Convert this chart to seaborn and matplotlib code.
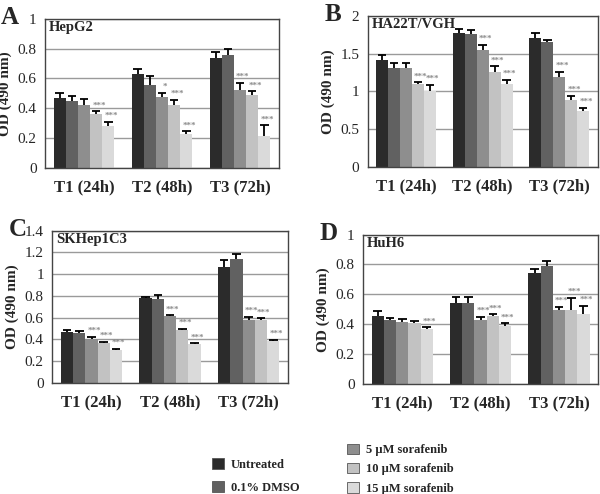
import matplotlib
matplotlib.use("Agg")
import matplotlib.pyplot as plt
from matplotlib.patches import Patch
import seaborn as sns
import pandas as pd
import numpy as np

times = ["T1 (24h)", "T2 (48h)", "T3 (72h)"]
treatments = ["Untreated", "0.1% DMSO", "5 µM sorafenib", "10 µM sorafenib", "15 µM sorafenib"]
colors = ["#2b2b2b", "#616161", "#8e8e8e", "#c2c2c2", "#dadada"]

# values per time point, one row per time, columns follow treatments
hepg2 = [[0.47, 0.45, 0.42, 0.36, 0.28],
         [0.63, 0.555, 0.475, 0.42, 0.225],
         [0.735, 0.76, 0.525, 0.49, 0.215]]
hepg2_err = [[0.03, 0.03, 0.04, 0.02, 0.03],
             [0.03, 0.06, 0.03, 0.035, 0.02],
             [0.04, 0.04, 0.045, 0.025, 0.07]]
hepg2_sig = [["", "", "", "***", "***"],
             ["", "", "*", "***", "***"],
             ["", "", "***", "***", "***"]]

ha22t = [[1.42, 1.31, 1.31, 1.10, 1.0],
         [1.77, 1.76, 1.55, 1.26, 1.10],
         [1.70, 1.65, 1.19, 0.89, 0.74]]
ha22t_err = [[0.06, 0.06, 0.07, 0.02, 0.09],
             [0.05, 0.05, 0.07, 0.07, 0.05],
             [0.07, 0.03, 0.07, 0.05, 0.04]]
ha22t_sig = [["", "", "", "***", "***"],
             ["", "", "***", "***", "***"],
             ["", "", "***", "***", "***"]]

skhep = [[0.47, 0.455, 0.405, 0.365, 0.305],
         [0.78, 0.775, 0.615, 0.49, 0.355],
         [1.07, 1.135, 0.575, 0.575, 0.385]]
skhep_err = [[0.02, 0.025, 0.02, 0.01, 0.01],
             [0.01, 0.03, 0.005, 0.01, 0.01],
             [0.06, 0.05, 0.035, 0.02, 0.01]]
skhep_sig = [["", "", "***", "***", "***"],
             ["", "", "***", "***", "***"],
             ["", "", "***", "***", "***"]]

huh6 = [[0.455, 0.425, 0.415, 0.405, 0.37],
        [0.545, 0.545, 0.43, 0.455, 0.385],
        [0.74, 0.79, 0.495, 0.495, 0.465]]
huh6_err = [[0.035, 0.015, 0.02, 0.015, 0.01],
            [0.035, 0.04, 0.02, 0.01, 0.02],
            [0.03, 0.035, 0.02, 0.08, 0.06]]
huh6_sig = [["", "", "", "", "***"],
            ["", "", "***", "***", "***"],
            ["", "", "***", "***", "***"]]

panels = [
    ("A", "HepG2", hepg2, hepg2_err, hepg2_sig, 1.0, 0.2, [0.075, 0.66, 0.39, 0.302]),
    ("B", "HA22T/VGH", ha22t, ha22t_err, ha22t_sig, 2.0, 0.5, [0.613, 0.662, 0.383, 0.306]),
    ("C", "SKHep1C3", skhep, skhep_err, skhep_sig, 1.4, 0.2, [0.087, 0.225, 0.393, 0.308]),
    ("D", "HuH6", huh6, huh6_err, huh6_sig, 1.0, 0.2, [0.605, 0.223, 0.392, 0.302]),
]

sns.set_style("white")
plt.rcParams["font.family"] = ["Liberation Serif", "DejaVu Serif"]

fig = plt.figure(figsize=(6, 4.94), dpi=100)

for letter, name, vals, errs, sigs, ymax, step, pos in panels:
    ax = fig.add_axes(pos)
    rows = []
    for i, t in enumerate(times):
        for j, tr in enumerate(treatments):
            rows.append({"time": t, "treatment": tr, "od": vals[i][j]})
    df = pd.DataFrame(rows)
    ax.set_axisbelow(True)
    ax.yaxis.grid(True, color="#9a9a9a", lw=1.0)
    sns.barplot(data=df, x="time", y="od", hue="treatment", hue_order=treatments,
                order=times, palette=colors, width=0.78, errorbar=None,
                saturation=1, legend=False, ax=ax, linewidth=0)
    # upper error bars and stars; patches go hue by hue, then by time
    for k, tr in enumerate(treatments):
        for i, t in enumerate(times):
            p = ax.patches[k * len(times) + i]
            x = p.get_x() + p.get_width() / 2
            h = p.get_height()
            e = errs[i][k]
            ax.vlines(x, h, h + e, color="black", lw=1.3)
            ax.hlines(h + e, x - 0.055, x + 0.055, color="black", lw=1.3)
            s = sigs[i][k]
            if s:
                ax.text(x + 0.035, h + e + ymax * 0.012, s, color="#8c8c8c",
                        fontsize=6.5, ha="center", va="bottom", fontweight="bold")
    ax.set_ylim(0, ymax)
    ax.set_xlim(-0.5, 2.5)
    ticks = np.arange(0, ymax + 1e-9, step)
    ax.set_yticks(ticks)
    ax.set_yticklabels(["{:g}".format(round(v, 2)) for v in ticks], fontsize=11)
    ax.set_xticks(range(3))
    ax.set_xticklabels(times, fontsize=12, fontweight="bold")
    ax.set_xticks([-0.5, 0.5, 1.5, 2.5], minor=True)
    ax.tick_params(axis="x", which="major", length=0, pad=8)
    ax.tick_params(axis="x", which="minor", length=4, color="#555555", direction="out")
    ax.tick_params(axis="y", length=4, color="#555555", direction="out", pad=2)
    ax.set_xlabel("")
    ax.set_ylabel("OD (490 nm)", fontsize=11, fontweight="bold", labelpad=4)
    for sp in ax.spines.values():
        sp.set_color("#444444")
        sp.set_linewidth(1.0)
    ax.text(0.015, 0.985, name, transform=ax.transAxes, ha="left", va="top",
            fontsize=10.5, fontweight="bold")
    fig.text(pos[0] - 0.058, pos[1] + pos[3] + 0.003, letter, fontsize=18,
             fontweight="bold", ha="center", va="center")

h1 = [Patch(facecolor=c, edgecolor="#555555", lw=0.6) for c in colors[:2]]
h2 = [Patch(facecolor=c, edgecolor="#555555", lw=0.6) for c in colors[2:]]
leg_kw = dict(frameon=False, handlelength=0.9, handleheight=0.9, handletextpad=0.6,
              prop={"weight": "bold", "size": 9})
fig.legend(h1, treatments[:2], loc="upper left", bbox_to_anchor=(0.335, 0.095),
           labelspacing=0.85, **leg_kw)
fig.legend(h2, treatments[2:], loc="upper left", bbox_to_anchor=(0.56, 0.125),
           labelspacing=0.55, **leg_kw)

fig.savefig("out.png", dpi=100)
